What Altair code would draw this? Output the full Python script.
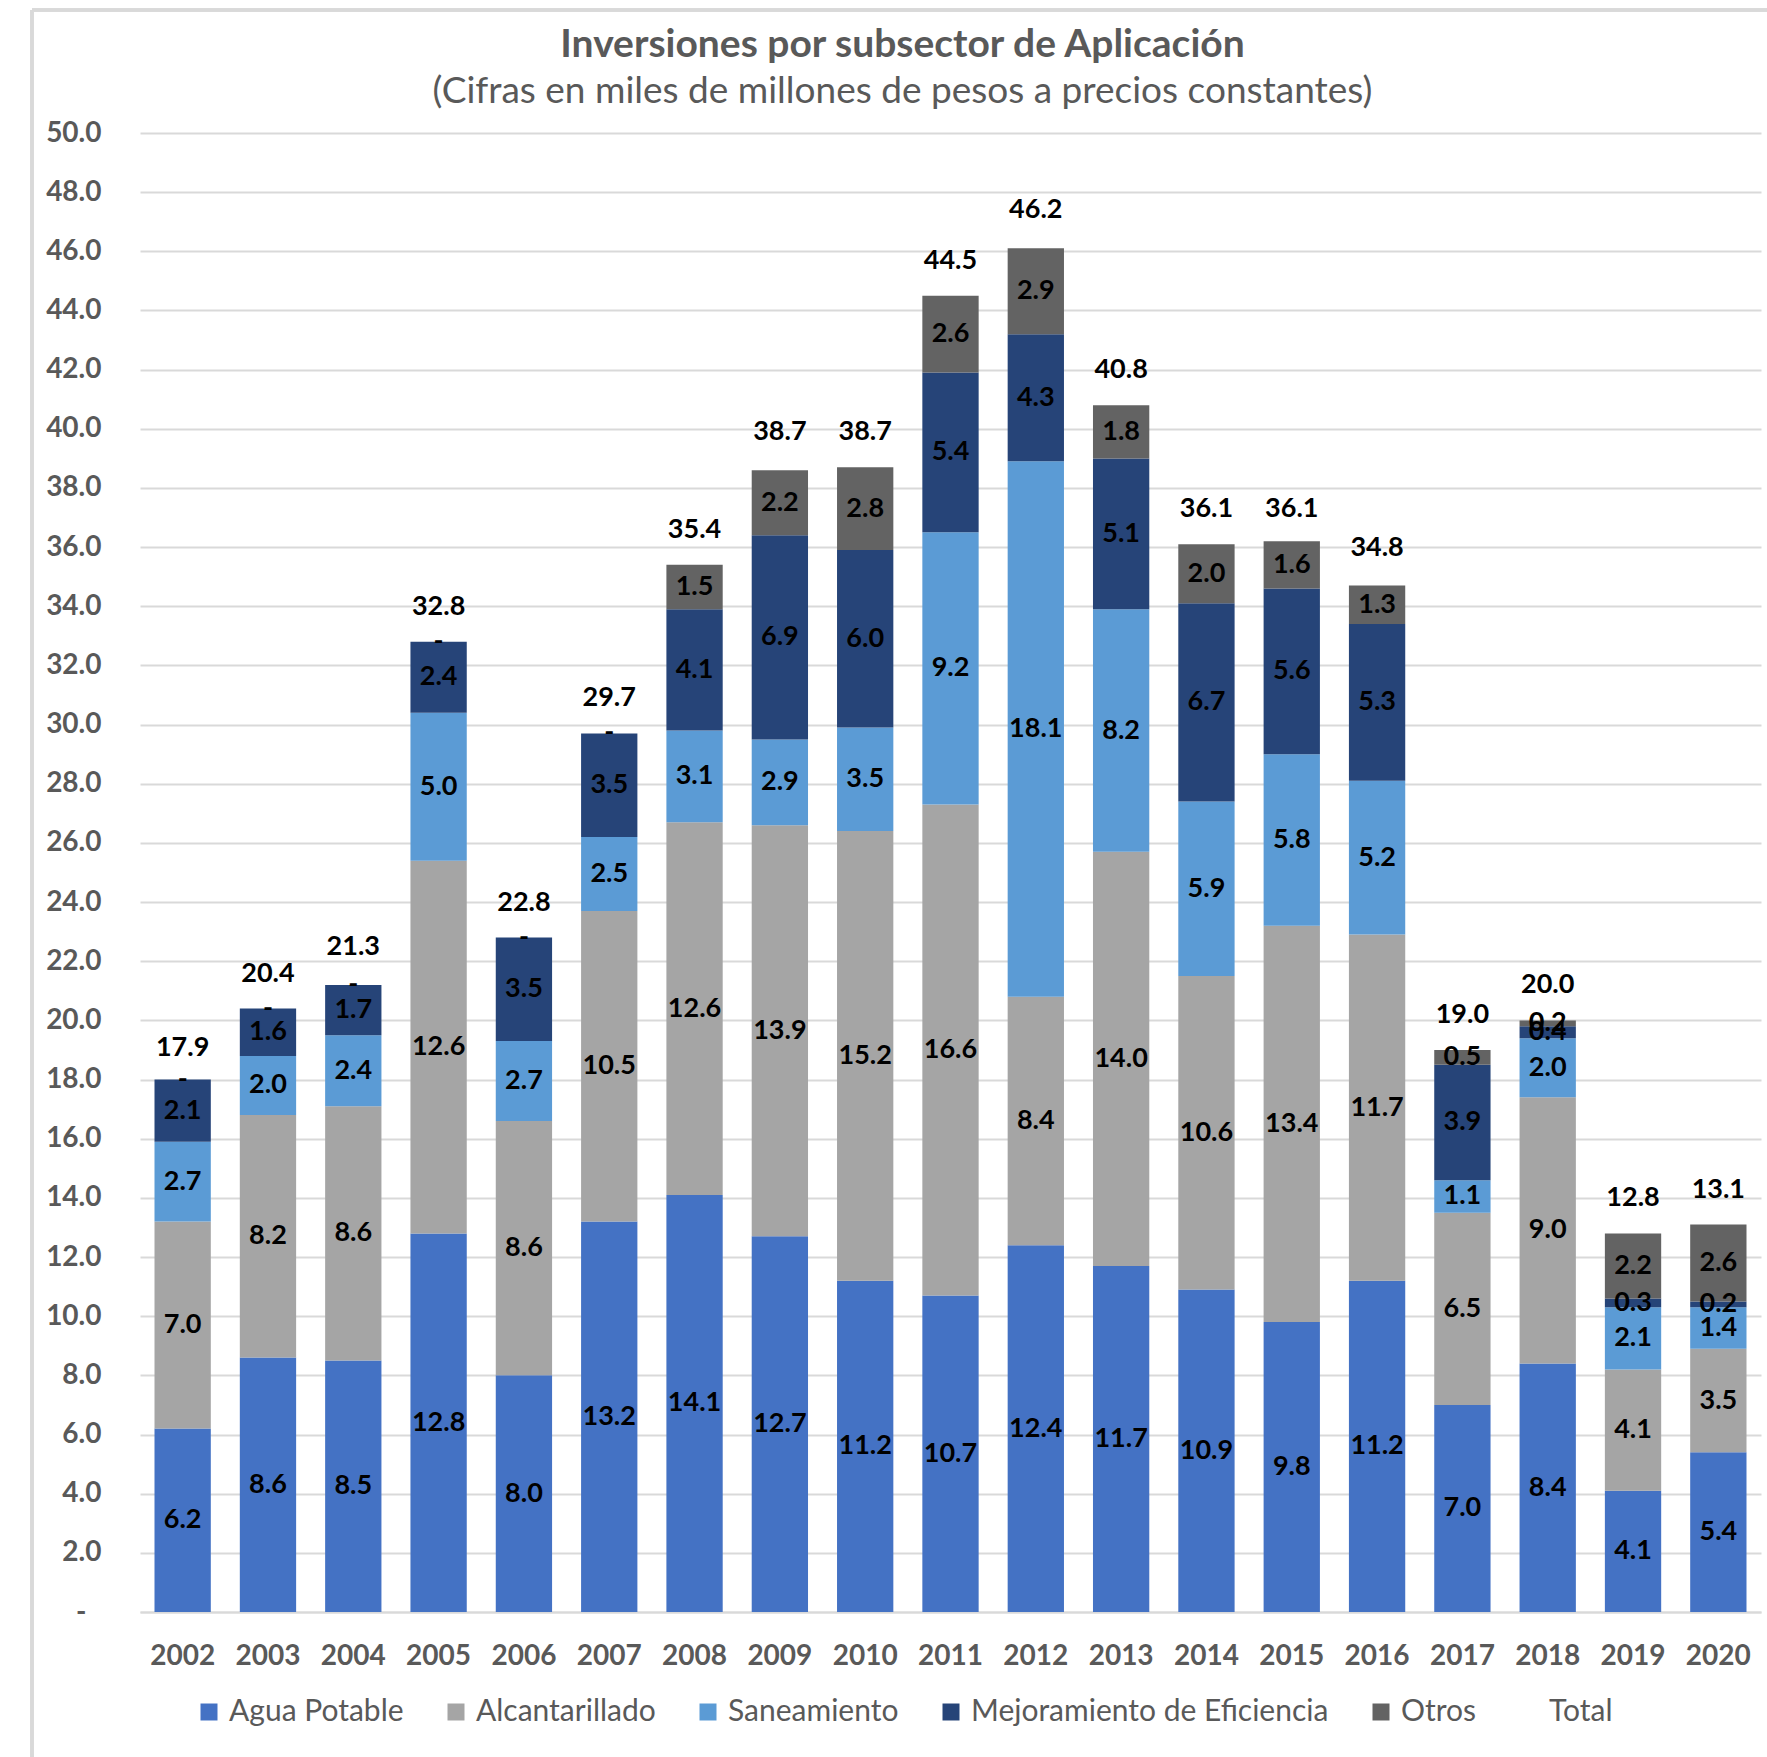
import altair as alt
import pandas as pd

years = [str(y) for y in range(2002, 2021)]
agua = [6.2, 8.6, 8.5, 12.8, 8.0, 13.2, 14.1, 12.7, 11.2, 10.7, 12.4, 11.7, 10.9, 9.8, 11.2, 7.0, 8.4, 4.1, 5.4]
alcantarillado = [7.0, 8.2, 8.6, 12.6, 8.6, 10.5, 12.6, 13.9, 15.2, 16.6, 8.4, 14.0, 10.6, 13.4, 11.7, 6.5, 9.0, 4.1, 3.5]
saneamiento = [2.7, 2.0, 2.4, 5.0, 2.7, 2.5, 3.1, 2.9, 3.5, 9.2, 18.1, 8.2, 5.9, 5.8, 5.2, 1.1, 2.0, 2.1, 1.4]
mejoramiento = [2.1, 1.6, 1.7, 2.4, 3.5, 3.5, 4.1, 6.9, 6.0, 5.4, 4.3, 5.1, 6.7, 5.6, 5.3, 3.9, 0.4, 0.3, 0.2]
otros = [0.0, 0.0, 0.0, 0.0, 0.0, 0.0, 1.5, 2.2, 2.8, 2.6, 2.9, 1.8, 2.0, 1.6, 1.3, 0.5, 0.2, 2.2, 2.6]
total = [17.9, 20.4, 21.3, 32.8, 22.8, 29.7, 35.4, 38.7, 38.7, 44.5, 46.2, 40.8, 36.1, 36.1, 34.8, 19.0, 20.0, 12.8, 13.1]

series_names = ["Agua Potable", "Alcantarillado", "Saneamiento", "Mejoramiento de Eficiencia", "Otros"]
series_values = [agua, alcantarillado, saneamiento, mejoramiento, otros]
legend_names = series_names + ["Total"]
colors = ["#4472C4", "#A5A5A5", "#5B9BD5", "#264478", "#636363", "rgba(0,0,0,0)"]

rows = []
for k, (name, vals) in enumerate(zip(series_names, series_values)):
    for y, v in zip(years, vals):
        rows.append({"year": y, "serie": name, "value": v, "ord": k})
df = pd.DataFrame(rows)
df_total = pd.DataFrame({"year": years, "total": total})

FONT = "Lato"
yscale = alt.Scale(domain=[0, 50], nice=False, zero=True)
xenc = alt.X("year:N", sort=years, title=None,
             scale=alt.Scale(paddingInner=0.34, paddingOuter=0.17))

bars = alt.Chart(df).mark_bar().encode(
    x=xenc,
    y=alt.Y("value:Q", stack="zero", scale=yscale, title=None,
            axis=alt.Axis(values=list(range(0, 51, 2)),
                          labelExpr="datum.value == 0 ? '-' : format(datum.value, '.1f')",
                          labelPadding={"condition": {"test": "datum.value === 0", "value": 54}, "value": 39},
                          labelFontSize=28, labelFontWeight="bold",
                          labelColor="#595959", labelFont=FONT, domain=False, ticks=False,
                          grid=True, gridColor="#D9D9D9", gridWidth=2)),
    color=alt.Color("serie:N", scale=alt.Scale(domain=legend_names, range=colors),
                    legend=alt.Legend(title=None, orient="none", direction="horizontal",
                                      legendX=54, legendY=1564, columns=6,
                                      symbolType="square", symbolSize=289, symbolStrokeWidth=0,
                                      labelFont=FONT, labelFontSize=30, labelColor="#595959",
                                      labelOffset=5, columnPadding=37, labelLimit=600)),
    order=alt.Order("ord:Q", sort="ascending"),
)

seg_labels = alt.Chart(df).transform_stack(
    stack="value", groupby=["year"], sort=[alt.SortField("ord", order="ascending")], as_=["y0", "y1"]
).transform_calculate(
    mid="(datum.y0 + datum.y1) / 2",
    lab="datum.value == 0 ? '-' : format(datum.value, '.1f')",
).mark_text(font=FONT, fontSize=27, fontWeight="bold", color="#000000", baseline="middle").encode(
    x=alt.X("year:N", sort=years),
    y=alt.Y("mid:Q", scale=yscale),
    text="lab:N",
)

tot_labels = alt.Chart(df_total).mark_text(
    font=FONT, fontSize=27, fontWeight="bold", color="#000000", baseline="middle", dy=-35
).encode(
    x=alt.X("year:N", sort=years),
    y=alt.Y("total:Q", scale=yscale),
    text=alt.Text("total:Q", format=".1f"),
)

frame_left = alt.Chart(df_total).mark_rule(color="#D9D9D9", strokeWidth=3).encode(
    x=alt.value(-108), y=alt.value(-123), y2=alt.value(1630))
frame_top = alt.Chart(df_total).mark_rule(color="#D9D9D9", strokeWidth=3).encode(
    x=alt.value(-108), x2=alt.value(1640), y=alt.value(-123))

chart = alt.layer(bars, seg_labels, tot_labels, frame_left, frame_top).properties(
    width=1621, height=1479,
    padding={"left": 140, "top": 133, "right": 6, "bottom": 145},
    autosize=alt.AutoSizeParams(type="none"),
    title=alt.TitleParams(
        text="Inversiones por subsector de Aplicación",
        subtitle="(Cifras en miles de millones de pesos a precios constantes)",
        font=FONT, subtitleFont=FONT, fontSize=39, subtitleFontSize=37,
        fontWeight="bold", color="#595959", subtitleColor="#595959",
        anchor="middle", frame="group", dx=-48, offset=-101, subtitlePadding=9),
).configure_view(stroke=None).configure_axisX(
    labelFont=FONT, labelFontSize=28, labelFontWeight="bold", labelColor="#595959",
    labelPadding=30, ticks=False, domainColor="#D9D9D9", domainWidth=2, labelAngle=0, grid=False
)

chart.save("out.html", embed_options={"renderer": "svg", "actions": False})
